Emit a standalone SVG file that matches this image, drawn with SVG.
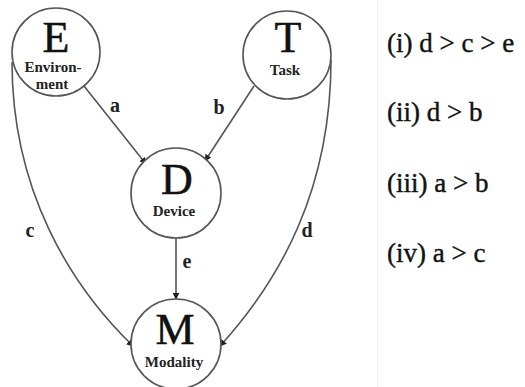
<svg xmlns="http://www.w3.org/2000/svg" width="525" height="387" viewBox="0 0 525 387">
<style>
.node circle{fill:#fff;stroke:#555;stroke-width:1.6}
.big{font-family:"Liberation Serif",serif;font-size:44px;fill:#111;stroke:#111;stroke-width:0.5;text-anchor:middle}
.sub{font-family:"Liberation Serif",serif;font-size:15px;font-weight:bold;fill:#222;text-anchor:middle}
.edge{fill:none;stroke:#555;stroke-width:1.6}
.lbl{font-family:"Liberation Serif",serif;font-size:20px;font-weight:bold;fill:#222;text-anchor:middle}
.rule{font-family:"Liberation Serif",serif;font-size:27px;fill:#111;stroke:#111;stroke-width:0.4}
</style>
<defs>
<marker id="arr" viewBox="0 0 10 10" refX="9" refY="5" markerWidth="7" markerHeight="7" markerUnits="userSpaceOnUse" orient="auto">
<path d="M0,0 L10,5 L0,10 z" fill="#222"/>
</marker>
</defs>
<rect width="525" height="387" fill="#fff"/>
<line x1="377.5" y1="0" x2="377.5" y2="387" stroke="#f2f2f2" stroke-width="1"/>
<g id="connectors">
<line class="edge" x1="84" y1="86" x2="146" y2="164" marker-end="url(#arr)"/>
<line class="edge" x1="254" y1="86" x2="205" y2="161" marker-end="url(#arr)"/>
<line class="edge" x1="176" y1="238" x2="176" y2="299" marker-end="url(#arr)"/>
<path class="edge" d="M12,62 C12,190 70,285 133,346" marker-end="url(#arr)"/>
<path class="edge" d="M331,60 C331,190 280,280 220,346" marker-end="url(#arr)"/>
<text class="lbl" x="115" y="112">a</text>
<text class="lbl" x="219" y="114">b</text>
<text class="lbl" x="187" y="268">e</text>
<text class="lbl" x="30" y="237">c</text>
<text class="lbl" x="307" y="237">d</text>
</g>
<g id="node-E" class="node">
<circle cx="56" cy="52" r="44"/>
<text class="big" x="56" y="52">E</text>
<text class="sub" x="53" y="72">Environ-</text>
<text class="sub" x="52" y="89">ment</text>
</g>
<g id="node-T" class="node">
<circle cx="287" cy="55" r="44"/>
<text class="big" x="288" y="52">T</text>
<text class="sub" x="285" y="75">Task</text>
</g>
<g id="node-D" class="node">
<circle cx="176" cy="193" r="45"/>
<text class="big" x="177" y="194">D</text>
<text class="sub" x="174" y="216">Device</text>
</g>
<g id="node-M" class="node">
<circle cx="176" cy="344" r="45"/>
<text class="big" x="175" y="344">M</text>
<text class="sub" x="174" y="367">Modality</text>
</g>
<g id="rules">
<text class="rule" x="387" y="52">(i) d &gt; c &gt; e</text>
<text class="rule" x="387" y="121">(ii) d &gt; b</text>
<text class="rule" x="387" y="192">(iii) a &gt; b</text>
<text class="rule" x="387" y="262">(iv) a &gt; c</text>
</g>
</svg>
